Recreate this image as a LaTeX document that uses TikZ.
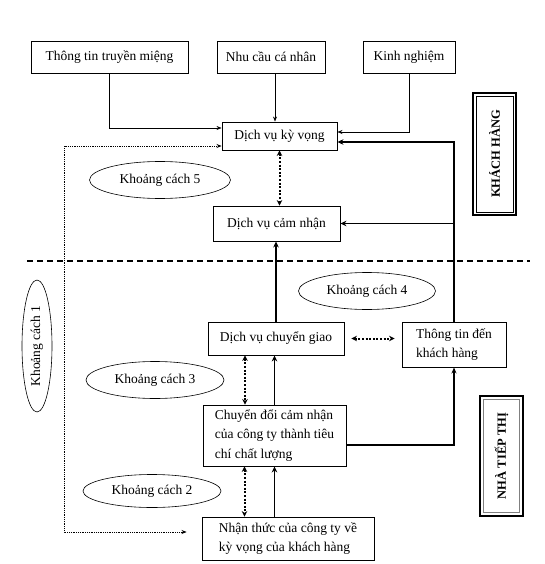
\documentclass[tikz,border=0pt]{standalone}
\usepackage{fontspec}
\setmainfont{Liberation Serif}
\usetikzlibrary{arrows.meta,shapes.geometric}

\begin{document}
\begin{tikzpicture}[x=1pt, y=-1pt, font=\fontsize{13.5}{19.5}\selectfont,
    box/.style={draw, line width=0.9pt, inner sep=2pt},
    gap/.style={draw, ellipse, line width=0.6pt, inner sep=0pt},
    side/.style={draw, line width=1.8pt, inner sep=0pt, font=\bfseries\fontsize{12.5}{14}\selectfont},
    thin arrow/.style={-{Stealth[length=5pt,width=4pt]}, line width=0.6pt},
    mid arrow/.style={-{Stealth[length=6pt,width=5pt]}, line width=1.2pt},
    thick arrow/.style={-{Stealth[length=6pt,width=5.5pt]}, line width=1.7pt},
    dotted pair/.style={{Stealth[length=5.5pt,width=5.5pt]}-{Stealth[length=5.5pt,width=5.5pt]},
      line width=2pt, dash pattern=on 2pt off 1.6pt},
    dotted link/.style={{Stealth[length=5pt,width=4pt]}-{Stealth[length=5pt,width=4pt]},
      line width=0.7pt, dash pattern=on 0.9pt off 0.9pt}]
  \useasboundingbox (0,0) rectangle (545,564);

  % nguon ky vong
  \node[box, minimum width=157, minimum height=32] (mieng) at (109.5,57) {Thông tin truyền miệng};
  \node[box, minimum width=108, minimum height=32] (nhucau) at (271,57) {Nhu cầu cá nhân};
  \node[box, minimum width=92, minimum height=32] (kinhnghiem) at (409,57) {Kinh nghiệm};

  % dich vu
  \node[box, minimum width=115, minimum height=28] (kyvong) at (279.5,136) {Dịch vụ kỳ vọng};
  \node[box, minimum width=127, minimum height=35] (camnhan) at (276.5,223.5) {Dịch vụ cảm nhận};
  \node[box, minimum width=136, minimum height=33] (chuyengiao) at (276,338.5) {Dịch vụ chuyển giao};
  \node[box, minimum width=104, minimum height=45, align=left] (thongtin) at (454,344.5) {Thông tin đến\\khách hàng};
  \node[box, minimum width=143, minimum height=61, align=left] (chuyendoi) at (274.5,435.5)
    {Chuyển đổi cảm nhận\\của công ty thành tiêu\\chí chất lượng};
  \node[box, minimum width=172, minimum height=43, align=left] (nhanthuc) at (288,538.5)
    {Nhận thức của công ty về\\kỳ vọng của khách hàng};

  % khoang cach
  \node[gap, minimum width=141, minimum height=37] (kc5) at (160,180) {Khoảng cách 5};
  \node[gap, minimum width=137, minimum height=37] (kc4) at (367,291) {Khoảng cách 4};
  \node[gap, minimum width=138, minimum height=37] (kc3) at (155,380) {Khoảng cách 3};
  \node[gap, minimum width=138, minimum height=33] (kc2) at (152,491) {Khoảng cách 2};
  \node[gap, minimum width=30, minimum height=132] (kc1) at (37,346) {\rotatebox{90}{Khoảng cách 1}};

  % hai phia
  \node[side, minimum width=43, minimum height=122] (khach) at (494.5,154) {\rotatebox{90}{KHÁCH HÀNG}};
  \node[side, minimum width=43, minimum height=120] (nha) at (501.5,456) {\rotatebox{90}{NHÀ TIẾP THỊ}};
  \draw[line width=0.6pt] ([shift={(4pt,4pt)}]khach.south west) rectangle ([shift={(-4pt,-4pt)}]khach.north east);
  \draw[line width=0.9pt, gray] ([shift={(4pt,4pt)}]nha.south west) rectangle ([shift={(-4pt,-4pt)}]nha.north east);
  \draw[line width=1.1pt, dash pattern=on 6pt off 4pt] (27,261) -- (530,261);

  % mui ten
  \draw[thin arrow] (mieng.south) |- ([yshift=8pt]kyvong.west);
  \draw[thin arrow] ([xshift=4pt]nhucau.south) -- ([xshift=4pt]nhucau.south |- kyvong.north);
  \draw[thin arrow] (kinhnghiem.south) |- ([yshift=4pt]kyvong.east);
  \draw[thick arrow] (thongtin.north) |- ([yshift=-6pt]kyvong.east);
  \draw[thick arrow] (thongtin.north |- camnhan.east) -- (camnhan.east);
  \draw[thick arrow] (chuyengiao.north) -- (chuyengiao.north |- camnhan.south);
  \draw[thick arrow] (chuyendoi.north) -- (chuyendoi.north |- chuyengiao.south);
  \draw[thick arrow] (nhanthuc.north -| chuyendoi.south) -- (chuyendoi.south);
  \draw[mid arrow] ([yshift=-9.5pt]chuyendoi.east) -| (thongtin.south);

  \draw[dotted pair] (kyvong.south) -- (kyvong.south |- camnhan.north);
  \draw[dotted pair, shorten <=7pt, shorten >=7pt] (chuyengiao.east) -- (thongtin.west |- chuyengiao.east);
  \draw[dotted pair] ([xshift=-31pt]chuyengiao.south) -- ([xshift=-31pt]chuyengiao.south |- chuyendoi.north);
  \draw[dotted pair] ([xshift=-30pt]chuyendoi.south) -- ([xshift=-30pt]chuyendoi.south |- nhanthuc.north);

  \coordinate (goc) at (64,532);
  \draw[dotted link, shorten >=15pt] ([yshift=-10pt]kyvong.west) -| (goc) -- (goc -| nhanthuc.west);
\end{tikzpicture}
\end{document}
